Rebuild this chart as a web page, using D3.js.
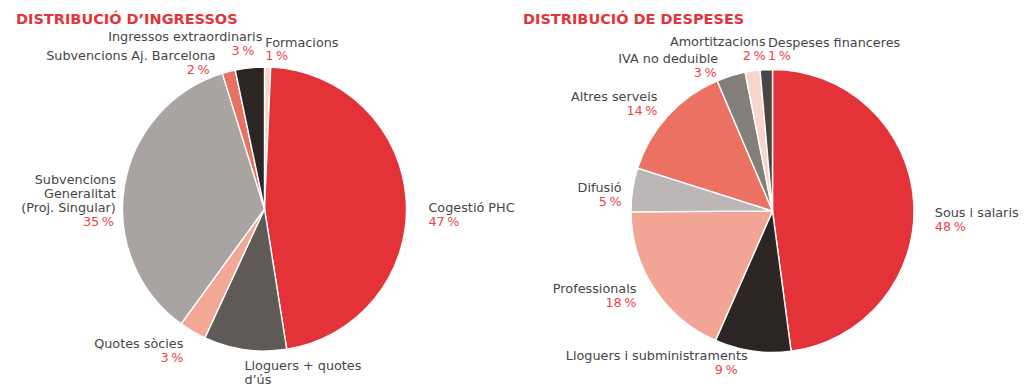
<!DOCTYPE html>
<html>
<head>
<meta charset="utf-8">
<script src="https://cdn.jsdelivr.net/npm/d3@7"></script>
<style>
  html, body { margin: 0; padding: 0; background: #fff; }
  svg { display: block; }
</style>
</head>
<body>
<svg id="chart" width="1024" height="387"></svg>
<script>
// ---------------- DATA ----------------
const incomeTitle = "DISTRIBUCIÓ D’INGRESSOS";
const incomeCategories = [
  "Formacions",
  "Cogestió PHC",
  "Lloguers + quotes\nd’ús",
  "Quotes sòcies",
  "Subvencions\nGeneralitat\n(Proj. Singular)",
  "Subvencions Aj. Barcelona",
  "Ingressos extraordinaris"
];
const incomeValues = [0.7, 46.8, 9.4, 3.1, 35.2, 1.5, 3.3];
const incomePctLabels = ["1 %", "47 %", "9 %", "3 %", "35 %", "2 %", "3 %"];

const expenseTitle = "DISTRIBUCIÓ DE DESPESES";
const expenseCategories = [
  "Sous i salaris",
  "Lloguers i subministraments",
  "Professionals",
  "Difusió",
  "Altres serveis",
  "IVA no deduible",
  "Amortitzacions",
  "Despeses financeres"
];
const expenseValues = [47.9, 8.7, 18.3, 5.0, 13.7, 3.3, 1.7, 1.4];
const expensePctLabels = ["48 %", "9 %", "18 %", "5 %", "14 %", "3 %", "2 %", "1 %"];

// ---------------- STYLE / LAYOUT ----------------
const incomeColors = ["#f7d4cc", "#e33338", "#5f5a56", "#f2a797", "#a9a4a2", "#e87262", "#2b2624"];
const expenseColors = ["#e33338", "#2b2624", "#f2a595", "#bcb7b6", "#eb7262", "#857f7c", "#f7d4cc", "#4a4543"];

// label nudges relative to the point at 1.1 r on each slice's mid angle
const incomeLabelLayout = [
  {anchor: "start", dx: -2.7, dy: -6.3, pdx: 0},
  {anchor: "start", dx: 8, dy: 12, pdx: 0},
  {anchor: "start", dx: 1.4, dy: 6, pdx: 0},
  {anchor: "end", dx: -2, dy: 4, pdx: 0},
  {anchor: "end", dx: 5.5, dy: 0.5, pdx: -2},
  {anchor: "end", dx: -9.5, dy: 2, pdx: -6},
  {anchor: "end", dx: 14, dy: -13, pdx: -8}
];
const expenseLabelLayout = [
  {anchor: "start", dx: 7, dy: 16.5, pdx: 0},
  {anchor: "end", dx: -3, dy: -5, pdx: -10},
  {anchor: "end", dx: -6, dy: -3, pdx: 0},
  {anchor: "end", dx: 3, dy: 4, pdx: 0},
  {anchor: "end", dx: 0, dy: -5, pdx: 0},
  {anchor: "end", dx: -8.5, dy: 0.6, pdx: -1.5},
  {anchor: "end", dx: 15, dy: -10.5, pdx: 0},
  {anchor: "start", dx: 2.3, dy: -9, pdx: 0}
];

const FONT = "'DejaVu Sans', sans-serif";
const LABEL_SIZE = 12.8;
const LINE_H = 13.9;
const NAME_COLOR = "#454545";
const PCT_COLOR = "#e8464c";
const TITLE_COLOR = "#e3343a";

const svg = d3.select("#chart");
svg.append("rect").attr("width", 1024).attr("height", 387).attr("fill", "#fff");

function drawPie(opts) {
  const {cx, cy, r, categories, values, pcts, colors, layout, title, titleX} = opts;
  svg.append("text")
    .attr("x", titleX).attr("y", 24)
    .attr("font-family", FONT).attr("font-weight", "bold")
    .attr("font-size", 14.5).attr("fill", TITLE_COLOR)
    .text(title);

  const data = categories.map((c, i) => ({name: c, value: values[i], pct: pcts[i], i}));
  const pie = d3.pie().sort(null).value(d => d.value).startAngle(0).endAngle(2 * Math.PI);
  const arcs = pie(data);
  const arc = d3.arc().innerRadius(0).outerRadius(r);
  const g = svg.append("g").attr("transform", `translate(${cx},${cy})`);
  g.selectAll("path").data(arcs).join("path")
    .attr("d", arc)
    .attr("fill", d => colors[d.data.i])
    .attr("stroke", "#fff")
    .attr("stroke-width", 1.4)
    .attr("stroke-linejoin", "round");

  const R = r * 1.1;
  arcs.forEach(a => {
    const mid = (a.startAngle + a.endAngle) / 2;
    const L = layout[a.data.i];
    const x = cx + R * Math.sin(mid) + L.dx;
    const y = cy - R * Math.cos(mid) + L.dy;
    const t = svg.append("text")
      .attr("font-family", FONT).attr("font-size", LABEL_SIZE)
      .attr("text-anchor", L.anchor);
    const lines = a.data.name.split("\n");
    lines.forEach((ln, k) => {
      t.append("tspan").attr("x", x).attr("y", y + k * LINE_H)
        .attr("fill", NAME_COLOR).text(ln);
    });
    t.append("tspan").attr("x", x + L.pdx).attr("y", y + lines.length * LINE_H)
      .attr("fill", PCT_COLOR).text(a.data.pct.replace(" ", "\u202F"));
  });
}

drawPie({
  cx: 264.5, cy: 209, r: 142,
  categories: incomeCategories, values: incomeValues, pcts: incomePctLabels,
  colors: incomeColors, layout: incomeLabelLayout,
  title: incomeTitle, titleX: 16
});
drawPie({
  cx: 772.5, cy: 211, r: 141.5,
  categories: expenseCategories, values: expenseValues, pcts: expensePctLabels,
  colors: expenseColors, layout: expenseLabelLayout,
  title: expenseTitle, titleX: 523
});
</script>
</body>
</html>
